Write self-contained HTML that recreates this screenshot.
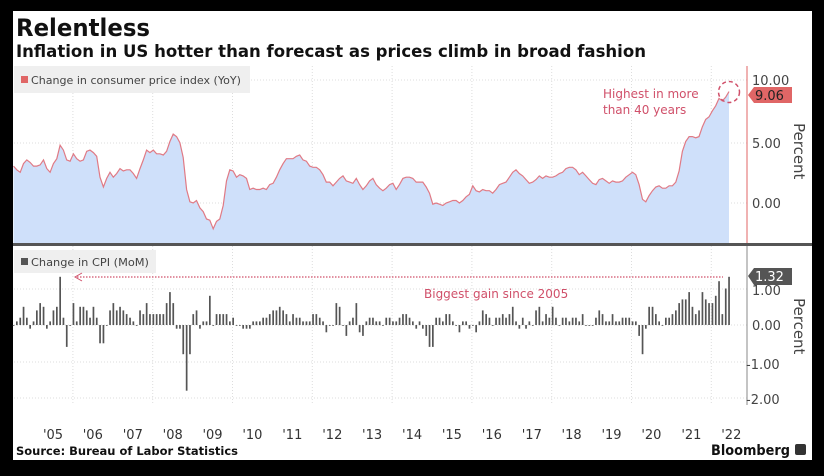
<!DOCTYPE html>
<html><head><meta charset="utf-8">
<style>
html,body{margin:0;padding:0;background:#000;}
svg{display:block;}
text{font-family:"DejaVu Sans","Liberation Sans",sans-serif;}
</style></head>
<body>
<svg id="s" width="824" height="476" viewBox="0 0 824 476" xmlns="http://www.w3.org/2000/svg">
<rect x="0" y="0" width="824" height="476" fill="#000"/>
<rect x="13" y="11" width="799" height="449" fill="#fff"/>
<text x="16" y="36" font-size="24" font-weight="bold" fill="#111" textLength="134" lengthAdjust="spacingAndGlyphs">Relentless</text>
<text x="16" y="57" font-size="16.5" font-weight="bold" fill="#111" textLength="630" lengthAdjust="spacingAndGlyphs">Inflation in US hotter than forecast as prices climb in broad fashion</text>
<g id="grid"></g>
<g id="top"></g>
<g id="bot"></g>
<!-- legends -->
<rect x="14" y="66" width="236" height="27" fill="#efefef"/>
<rect x="21" y="76" width="7" height="7" fill="#e06666"/>
<text x="31" y="84" font-size="11" fill="#444" textLength="210" lengthAdjust="spacingAndGlyphs">Change in consumer price index (YoY)</text>
<rect x="14" y="250" width="142" height="23" fill="#efefef"/>
<rect x="21" y="258" width="7" height="7" fill="#555"/>
<text x="31" y="266" font-size="11" fill="#444" textLength="118" lengthAdjust="spacingAndGlyphs">Change in CPI (MoM)</text>
<!-- divider -->
<rect x="13" y="243" width="799" height="3" fill="#555"/>
<!-- axes -->
<line x1="747" y1="66" x2="747" y2="243" stroke="#e06666" stroke-width="1"/>
<line x1="747" y1="246" x2="747" y2="405" stroke="#888" stroke-width="1"/>
<g font-size="13" fill="#444">
<text x="752" y="85">10.00</text>
<text x="752" y="148">5.00</text>
<text x="752" y="208">0.00</text>
<text x="752" y="295">1.00</text>
<text x="752" y="330">0.00</text>
<text x="746" y="369">-1.00</text>
<text x="746" y="404">-2.00</text>
</g>
<text transform="translate(794,123) rotate(90)" font-size="15" fill="#444">Percent</text>
<text transform="translate(794,298) rotate(90)" font-size="15" fill="#444">Percent</text>
<!-- annotations -->
<text x="603" y="98" font-size="12" fill="#d0506a">Highest in more</text>
<text x="603" y="114" font-size="12" fill="#d0506a">than 40 years</text>
<circle cx="729" cy="92" r="10.5" fill="none" stroke="#d0506a" stroke-width="1.5" stroke-dasharray="4,3"/>
<path d="M748,95 L754,87 L792,87 L792,103 L754,103 Z" fill="#e06666"/>
<text x="755" y="100" font-size="13" fill="#222">9.06</text>
<path d="M748,276 L754,268 L792,268 L792,285 L754,285 Z" fill="#555"/>
<text x="755" y="281" font-size="13" fill="#fff">1.32</text>
<line x1="77" y1="277" x2="723" y2="277" stroke="#d0506a" stroke-width="1.3" stroke-dasharray="1.5,1.5"/>
<path d="M82,273 L75,277 L82,281" fill="none" stroke="#d0506a" stroke-width="1"/>
<text x="424" y="298" font-size="12" fill="#d0506a">Biggest gain since 2005</text>
<g id="xl" font-size="13" fill="#333"></g>
<text x="16" y="455" font-size="11.5" font-weight="bold" fill="#111" textLength="222" lengthAdjust="spacingAndGlyphs">Source: Bureau of Labor Statistics</text>
<text x="711" y="455" font-size="14" font-weight="bold" fill="#111" textLength="79" lengthAdjust="spacingAndGlyphs">Bloomberg</text>
<rect x="795" y="444" width="11" height="11" rx="2" fill="#333"/>
</svg>
<script>
var yoy=[3.0,2.7,2.5,3.2,3.5,3.3,
3.0,3.0,3.1,3.5,2.8,2.5,3.2,3.6,4.7,4.3,3.5,3.4,
4.0,3.6,3.4,3.5,4.2,4.3,4.1,3.8,2.1,1.3,2.0,2.5,
2.1,2.4,2.8,2.6,2.7,2.7,2.4,2.0,2.8,3.5,4.3,4.1,
4.3,4.0,4.0,3.9,4.2,5.0,5.6,5.4,4.9,3.7,1.1,0.1,
0.0,0.2,-0.4,-0.7,-1.3,-1.4,-2.1,-1.5,-1.3,-0.2,1.8,2.7,
2.6,2.1,2.3,2.2,2.0,1.1,1.2,1.1,1.1,1.2,1.1,1.5,
1.6,2.1,2.7,3.2,3.6,3.6,3.6,3.8,3.9,3.5,3.4,3.0,
2.9,2.9,2.7,2.3,1.7,1.7,1.4,1.7,2.0,2.2,1.8,1.7,
1.6,2.0,1.5,1.1,1.4,1.8,2.0,1.5,1.2,1.0,1.2,1.5,
1.6,1.1,1.5,2.0,2.1,2.1,2.0,1.7,1.7,1.7,1.3,0.8,
-0.1,0.0,-0.1,-0.2,0.0,0.1,0.2,0.2,0.0,0.2,0.5,0.7,
1.4,1.0,0.9,1.1,1.0,1.0,0.8,1.1,1.5,1.6,1.7,2.1,
2.5,2.7,2.4,2.2,1.9,1.6,1.7,1.9,2.2,2.0,2.2,2.1,
2.1,2.2,2.4,2.5,2.8,2.9,2.9,2.7,2.3,2.5,2.2,1.9,
1.6,1.5,1.9,2.0,1.8,1.6,1.8,1.7,1.7,1.8,2.1,2.3,
2.5,2.3,1.5,0.3,0.1,0.6,1.0,1.3,1.4,1.2,1.2,1.4,
1.4,1.7,2.6,4.2,5.0,5.4,5.4,5.3,5.4,6.2,6.8,7.0,
7.5,7.9,8.5,8.3,8.6,9.06];
var mom=[0.0,0.1,0.2,0.5,0.2,-0.1,
0.1,0.4,0.6,0.5,-0.1,0.1,0.4,0.5,1.32,0.2,-0.6,0.0,
0.6,0.1,0.5,0.5,0.4,0.2,0.5,0.2,-0.5,-0.5,0.0,0.4,
0.6,0.4,0.5,0.4,0.3,0.2,0.1,0.0,0.4,0.3,0.6,0.3,
0.3,0.3,0.3,0.3,0.6,0.9,0.6,-0.1,-0.1,-0.8,-1.8,-0.8,
0.3,0.4,-0.1,0.1,0.1,0.8,0.0,0.3,0.3,0.3,0.3,0.1,
0.2,0.0,0.0,-0.1,-0.1,-0.1,0.1,0.1,0.1,0.2,0.2,0.3,
0.4,0.4,0.5,0.4,0.3,0.1,0.3,0.2,0.2,0.1,0.1,0.1,
0.3,0.3,0.2,0.1,-0.2,0.0,0.0,0.6,0.5,0.0,-0.3,0.1,
0.2,0.6,-0.2,-0.3,0.1,0.2,0.2,0.1,0.1,0.0,0.2,0.2,
0.1,0.1,0.2,0.3,0.3,0.2,0.1,-0.1,0.1,-0.1,-0.3,-0.6,
-0.6,0.2,0.2,0.1,0.3,0.3,0.1,0.0,-0.2,0.1,0.1,-0.1,
0.0,-0.2,0.1,0.4,0.3,0.2,0.0,0.2,0.2,0.3,0.2,0.3,
0.5,0.1,-0.1,0.2,-0.1,0.1,0.0,0.4,0.5,0.1,0.3,0.2,
0.5,0.2,0.0,0.2,0.2,0.1,0.2,0.2,0.1,0.3,0.0,0.0,
0.0,0.2,0.4,0.3,0.1,0.1,0.3,0.1,0.1,0.2,0.2,0.2,
0.1,0.1,-0.3,-0.8,-0.1,0.5,0.5,0.3,0.1,0.0,0.2,0.2,
0.3,0.4,0.6,0.7,0.7,0.9,0.5,0.3,0.4,0.9,0.7,0.6,
0.6,0.8,1.2,0.3,1.0,1.32];
var NS="http://www.w3.org/2000/svg";
function el(p,t,a){var e=document.createElementNS(NS,t);for(var k in a)e.setAttribute(k,a[k]);p.appendChild(e);return e;}
function X(i){return 13.5+i*(729-13.5)/(yoy.length-1);}
var g=document.getElementById('grid');
for(var yr=2006;yr<=2022;yr+=2){var x=33+(yr-2005)*39.9;
el(g,'line',{x1:x,y1:66,x2:x,y2:243,stroke:'#ddd','stroke-dasharray':'1,2'});
el(g,'line',{x1:x,y1:246,x2:x,y2:405,stroke:'#ddd','stroke-dasharray':'1,2'});}
[80,143,203].forEach(function(y){el(g,'line',{x1:14,y1:y,x2:747,y2:y,stroke:'#ddd','stroke-dasharray':'1,2'});});
[289,325,362,398].forEach(function(y){el(g,'line',{x1:14,y1:y,x2:747,y2:y,stroke:'#ddd','stroke-dasharray':'1,2'});});
[743,751].forEach(function(x){});
var t=document.getElementById('top');
var pts=yoy.map(function(v,i){return X(i).toFixed(1)+','+(203-v*12.3).toFixed(1);});
el(t,'path',{d:'M'+X(0)+',243 L'+pts.join(' L')+' L'+X(yoy.length-1)+',243 Z',fill:'#cfe0fa'});
el(t,'polyline',{points:pts.join(' '),fill:'none',stroke:'#e07a85','stroke-width':1.2});
var b=document.getElementById('bot');
mom.forEach(function(v,i){var y=325-v*36.5;var x=X(i);
el(b,'rect',{x:(x-0.8).toFixed(1),y:Math.min(y,325).toFixed(1),width:1.7,height:Math.max(Math.abs(v*36.5),0.8).toFixed(1),fill:'#555'});});
var xl=document.getElementById('xl');
for(var yr=2005;yr<=2022;yr++){var x=33+(yr-2005+0.5)*39.9;var tx=el(xl,'text',{x:x.toFixed(1),y:439,'text-anchor':'middle'});tx.textContent="'"+String(yr).slice(2);}
</script>
</body></html>
